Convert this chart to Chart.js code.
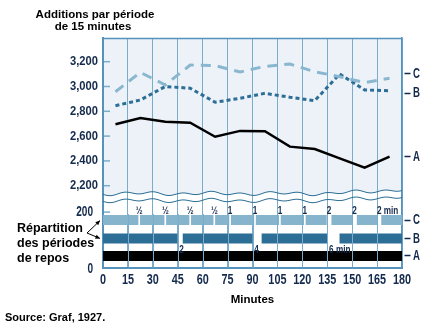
<!DOCTYPE html>
<html><head><meta charset="utf-8">
<style>html,body{margin:0;padding:0;background:#fff}</style>
<script src="https://cdn.jsdelivr.net/npm/chart.js@4.4.1/dist/chart.umd.min.js"></script>
</head><body>
<canvas id="c" width="435" height="334"></canvas>
<script>
// ---- data ----
const minutes = [7.5, 22.5, 37.5, 52.5, 67.5, 82.5, 97.5, 112.5, 127.5, 142.5, 157.5, 172.5];
const seriesA = [2695, 2745, 2716, 2708, 2595, 2642, 2640, 2515, 2496, 2421, 2345, 2434];
const seriesB = [2845, 2891, 3000, 2986, 2873, 2905, 2945, 2913, 2886, 3101, 2972, 2966];
const seriesC = [2958, 3114, 3012, 3173, 3168, 3117, 3162, 3181, 3119, 3079, 3031, 3066];
const upperTicks = [2200, 2400, 2600, 2800, 3000, 3200];
const lowerTicks = [0, 200];
const xTicks = [0, 15, 30, 45, 60, 75, 90, 105, 120, 135, 150, 165, 180];
const seriesNames = ['C', 'B', 'A'];
const seriesLabelValues = [3107, 2946, 2434];
const barRows = [171, 105, 41.5];           // rows C, B, A on the lower scale
const gapsC = [[21.3,22.3],[37,38],[52,53],[66.5,67.5],[76,77],[91,92],[106,107],[121,122],[134.7,137.5],[150,152.8],[165,167.5]];
const gapLabelsC = ['½','½','½','½','1','1','1','1','2','2','2 min'];
const gapsB = [[44.8,48],[90,95.5],[135,142.4]];
const gapLabelsB = ['2','4','6 min'];
const gapsA = [];

// ---- styles ----
const FONT_S = "'Liberation Sans',Arial,Helvetica,sans-serif";
const NAVY = '#142a4c';
const GRID = '#7aadcc';
const AXIS = '#5593bd';
const COLC = '#86b4cd', COLB = '#2c6e95', COLA = '#000000';
const BG = '#edf2f8';

function segments(gaps, yv) {
  const pts = []; let s = 0;
  for (const [a, b] of gaps) { pts.push({x:s,y:yv},{x:a,y:yv},{x:a,y:null}); s = b; }
  pts.push({x:s,y:yv},{x:180,y:yv});
  return pts;
}
function wave(x, base) {
  const t = x - 103;
  let y = base + 1.3*Math.sin(t/4.6) + 0.9*Math.sin(t/11 + 1.2);
  if (x > 330) y -= (x - 330) * 0.055;
  return y;
}
function setTicks(list){ return s => { s.ticks = list.map(v => ({value: v})); }; }
// condensed text (horizontal squeeze of a bold sans)
function ctext(ctx, txt, x, y, size, sx, align, baseline) {
  ctx.save();
  ctx.font = `bold ${size}px ${FONT_S}`;
  ctx.translate(x, y); ctx.scale(sx, 1);
  ctx.textAlign = align; ctx.textBaseline = baseline || 'middle';
  ctx.fillText(txt, 0, 0);
  ctx.restore();
}
function cwidth(ctx, txt, size, sx) {
  ctx.save(); ctx.font = `bold ${size}px ${FONT_S}`; const w = ctx.measureText(txt).width * sx; ctx.restore(); return w;
}

const deco = {
  id: 'deco',
  beforeDraw(chart) {
    const {ctx, chartArea: ca, scales} = chart;
    ctx.save();
    ctx.fillStyle = '#fff'; ctx.fillRect(0, 0, chart.width, chart.height);
    const base = scales.yUp.bottom - 2.5;
    ctx.beginPath(); ctx.moveTo(ca.left, ca.top); ctx.lineTo(ca.right, ca.top);
    for (let x = ca.right; x >= ca.left; x -= 1) ctx.lineTo(x, wave(x, base));
    ctx.closePath(); ctx.fillStyle = BG; ctx.fill();
    ctx.restore();
  },
  afterDatasetsDraw(chart) {
    const {ctx, chartArea: ca, scales} = chart;
    const xs = scales.x, yU = scales.yUp, yL = scales.yLow;
    ctx.save();
    // grid over the rest bars
    ctx.strokeStyle = GRID; ctx.lineWidth = 1;
    for (const v of xTicks) {
      if (v === 0 || v === 180) continue;
      const px = Math.round(xs.getPixelForValue(v)) + 0.5;
      ctx.beginPath(); ctx.moveTo(px, yL.getPixelForValue(barRows[0]) - 6); ctx.lineTo(px, yL.bottom); ctx.stroke();
    }
    // inward tick dashes
    ctx.lineWidth = 1.5;
    for (const v of upperTicks) { const py = yU.getPixelForValue(v); ctx.beginPath(); ctx.moveTo(ca.left+1, py); ctx.lineTo(ca.left+7, py); ctx.stroke(); }
    for (const v of lowerTicks) { if (v === 0) continue; const py = yL.getPixelForValue(v); ctx.beginPath(); ctx.moveTo(ca.left+1, py); ctx.lineTo(ca.left+7, py); ctx.stroke(); }
    // top border
    ctx.strokeStyle = AXIS; ctx.lineWidth = 1.5;
    ctx.beginPath(); ctx.moveTo(ca.left, ca.top + 0.5); ctx.lineTo(ca.right, ca.top + 0.5); ctx.stroke();
    // break waves
    ctx.strokeStyle = COLB; ctx.lineWidth = 1;
    for (const off of [-2.5, 4.5]) {
      ctx.beginPath();
      for (let x = ca.left; x <= ca.right; x += 1) { const y = wave(x, yU.bottom + off); x === ca.left ? ctx.moveTo(x, y) : ctx.lineTo(x, y); }
      ctx.stroke();
    }
    // tick labels (from the library's scales), drawn condensed
    ctx.fillStyle = NAVY;
    for (const t of yU.ticks) ctext(ctx, t.label, ca.left - 5, yU.getPixelForValue(t.value), 13, 0.86, 'right');
    for (const t of yL.ticks) ctext(ctx, t.label, ca.left - 10, yL.getPixelForValue(t.value) + (t.value === 0 ? 1.5 : 0), 14, 0.72, 'right');
    for (const t of xs.ticks) ctext(ctx, t.label, xs.getPixelForValue(t.value), ca.bottom + 12.5, 15.5, 0.7, 'center');
    for (const sc of [scales.rUp, scales.rLow]) for (const t of sc.ticks) ctext(ctx, t.label, ca.right + 11, sc.getPixelForValue(t.value), 15.5, 0.62, 'left');
    // gap labels
    const cTop = yL.getPixelForValue(barRows[0]) - 5;
    gapsC.forEach((g, i) => {
      const lab = gapLabelsC[i];
      const cx = xs.getPixelForValue((g[0] + g[1]) / 2);
      const w0 = cwidth(ctx, lab[0], 10.5, 0.78);
      ctext(ctx, lab, cx - w0/2, cTop - 1, 10.5, 0.78, 'left', 'alphabetic');
    });
    const bBot = yL.getPixelForValue(barRows[1]) + 5;
    gapsB.forEach((g, i) => { ctext(ctx, gapLabelsB[i], xs.getPixelForValue(g[0]) + 1.8, bBot + 1, 10.5, 0.78, 'left', 'top'); });
    // texts
    ctx.fillStyle = '#000'; ctx.font = `bold 11.5px ${FONT_S}`; ctx.textBaseline = 'middle';
    ctx.textAlign = 'center';
    ctx.fillText('Additions par période', 95, 15);
    ctx.fillText('de 15 minutes', 93, 27);
    ctx.textAlign = 'left';
    ctx.font = `bold 12.5px ${FONT_S}`;
    ctx.fillText('Répartition', 17, 229);
    ctx.fillText('des périodes', 17, 244);
    ctx.fillText('de repos', 17, 259);
    ctx.font = `bold 11px ${FONT_S}`;
    ctx.fillText('Source: Graf, 1927.', 5, 318);
    // arrows
    const vx = 87, vy = 233;
    ctx.strokeStyle = '#000'; ctx.lineWidth = 1;
    for (const [tx, ty] of [[100, yL.getPixelForValue(barRows[0]) + 0.5], [100, yL.getPixelForValue(barRows[1])]]) {
      ctx.beginPath(); ctx.moveTo(vx, vy); ctx.lineTo(tx, ty); ctx.stroke();
      const ang = Math.atan2(ty - vy, tx - vx);
      ctx.beginPath(); ctx.moveTo(tx, ty);
      ctx.lineTo(tx - 5*Math.cos(ang - 0.45), ty - 5*Math.sin(ang - 0.45));
      ctx.lineTo(tx - 5*Math.cos(ang + 0.45), ty - 5*Math.sin(ang + 0.45));
      ctx.closePath(); ctx.fillStyle = '#000'; ctx.fill();
    }
    ctx.restore();
  }
};

const lineBase = {pointRadius: 0, tension: 0, fill: false, yAxisID: 'yUp', xAxisID: 'x'};
const barBase = {pointRadius: 0, tension: 0, fill: false, yAxisID: 'yLow', xAxisID: 'x', borderWidth: 10, borderCapStyle: 'butt', spanGaps: false};
const noLabels = {display: false, autoSkip: false};

new Chart(document.getElementById('c'), {
  type: 'line',
  data: { datasets: [
    {...lineBase, label: 'C', data: minutes.map((m, i) => ({x: m, y: seriesC[i]})), borderColor: '#8ab7d0', borderWidth: 3, borderDash: [10, 7]},
    {...lineBase, label: 'B', data: minutes.map((m, i) => ({x: m, y: seriesB[i]})), borderColor: COLB, borderWidth: 3, borderDash: [4, 3]},
    {...lineBase, label: 'A', data: minutes.map((m, i) => ({x: m, y: seriesA[i]})), borderColor: COLA, borderWidth: 2.5},
    {...barBase, label: 'Repos C', data: segments(gapsC, barRows[0]), borderColor: COLC},
    {...barBase, label: 'Repos B', data: segments(gapsB, barRows[1]), borderColor: COLB},
    {...barBase, label: 'Repos A', data: segments(gapsA, barRows[2]), borderColor: COLA}
  ]},
  options: {
    responsive: false, devicePixelRatio: 1, animation: false,
    layout: {padding: {left: 0, right: 0, top: 38, bottom: 27}},
    plugins: {legend: {display: false}, tooltip: {enabled: false}},
    scales: {
      x: {type: 'linear', position: 'bottom', min: 0, max: 180, afterBuildTicks: setTicks(xTicks),
          grid: {color: GRID, lineWidth: 1, drawTicks: false}, border: {color: AXIS, width: 2},
          ticks: noLabels,
          title: {display: true, text: 'Minutes', font: {family: FONT_S, size: 11.5, weight: 'bold'}, color: '#000', padding: {top: 0, bottom: 0}},
          afterFit: s => { s.height = 39.5; }},
      yLow: {type: 'linear', position: 'left', stack: 'L', stackWeight: 71.5, weight: 0, min: 0, max: 258,
          afterBuildTicks: setTicks(lowerTicks), grid: {display: false, drawTicks: false}, border: {color: AXIS, width: 2},
          ticks: noLabels, afterFit: s => { s.width = 103; }},
      yUp: {type: 'linear', position: 'left', stack: 'L', stackWeight: 158, weight: 1, min: 2117, max: 3391,
          afterBuildTicks: setTicks(upperTicks), grid: {display: false, drawTicks: false}, border: {color: AXIS, width: 2},
          ticks: {...noLabels, callback: v => v.toLocaleString('en-US')},
          afterFit: s => { s.width = 103; }},
      rUp: {type: 'linear', position: 'right', stack: 'R', stackWeight: 158, weight: 0, min: 2117, max: 3391,
          afterBuildTicks: setTicks(seriesLabelValues),
          grid: {display: true, drawOnChartArea: false, drawTicks: true, tickLength: 9, tickColor: NAVY, tickWidth: 1.5, tickBorderDash: [0, 2, 6, 10]},
          border: {color: AXIS, width: 1.5},
          ticks: {...noLabels, callback: v => seriesNames[seriesLabelValues.indexOf(v)]},
          afterFit: s => { s.width = 33; }},
      rLow: {type: 'linear', position: 'right', stack: 'R', stackWeight: 71.5, weight: 1, min: 0, max: 258,
          afterBuildTicks: setTicks(barRows),
          grid: {display: true, drawOnChartArea: false, drawTicks: true, tickLength: 9, tickColor: NAVY, tickWidth: 1.5, tickBorderDash: [0, 2, 6, 10]},
          border: {color: AXIS, width: 1.5},
          ticks: {...noLabels, callback: v => seriesNames[barRows.indexOf(v)]},
          afterFit: s => { s.width = 33; }}
    }
  },
  plugins: [deco]
});
</script>
</body></html>
